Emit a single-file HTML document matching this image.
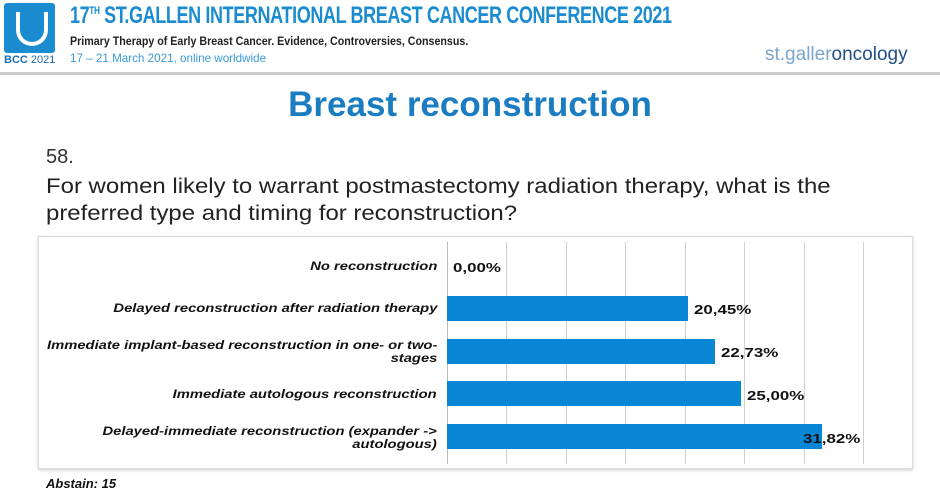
<!DOCTYPE html>
<html><head><meta charset="utf-8"><style>
body{margin:0;width:940px;height:495px;background:#fff;font-family:"Liberation Sans",sans-serif;position:relative;overflow:hidden}
.a{position:absolute;white-space:nowrap}
.lbl{position:absolute;right:503px;text-align:right;font-style:italic;font-weight:bold;font-size:12px;color:#111;line-height:13px;transform:scaleX(1.23);transform-origin:right}
.bar{position:absolute;left:447px;height:25px;background:#0a86d6}
.val{position:absolute;font-weight:bold;font-size:13px;color:#111;transform:scaleX(1.3);transform-origin:left}
.g{position:absolute;top:242px;height:222px;width:1px;background:#d0d0d0}
</style></head><body>
<div class="a" style="left:4px;top:3px;width:51px;height:50px;background:#1a8ccf;border-radius:3px"></div>
<div class="a" style="left:16px;top:12px;width:24px;height:30px;border:4px solid #fff;border-top:none;border-radius:0 0 16px 16px"></div>
<div class="a" style="left:4px;top:54px;font-size:11px;color:#1a6fb0"><b>BCC</b> 2021</div>
<div class="a" style="left:70px;top:2px;font-size:24px;font-weight:bold;color:#1a8ccf;transform:scaleX(0.75);transform-origin:left;letter-spacing:-0.5px">17<sup style="font-size:11px">TH</sup> ST.GALLEN INTERNATIONAL BREAST CANCER CONFERENCE 2021</div>
<div class="a" style="left:70px;top:34px;font-size:12px;font-weight:bold;color:#222;transform:scaleX(0.89);transform-origin:left">Primary Therapy of Early Breast Cancer. Evidence, Controversies, Consensus.</div>
<div class="a" style="left:70px;top:51px;font-size:12px;color:#3a9ad8;transform:scaleX(0.97);transform-origin:left">17 – 21 March 2021, online worldwide</div>
<div class="a" style="left:765px;top:44px;font-size:19px;color:#7aa6cc">st.galler<span style="color:#1f4f86">oncology</span></div>
<div class="a" style="left:0;top:72px;width:940px;height:3px;background:#ccc"></div>
<div class="a" style="left:0;top:85px;width:940px;text-align:center;font-size:35px;font-weight:bold;color:#1a7cc1">Breast reconstruction</div>
<div class="a" style="left:46px;top:146px;font-size:20px;color:#333">58.</div>
<div class="a" style="left:46px;top:173px;font-size:21px;color:#222;line-height:27px;transform:scaleX(1.14);transform-origin:left">For women likely to warrant postmastectomy radiation therapy, what is the<br>preferred type and timing for reconstruction?</div>
<div class="a" style="left:38px;top:236px;width:873px;height:231px;border:1px solid #ddd;box-shadow:0 1px 3px #ccc"></div>
<div class="g" style="left:447px;background:#bbb"></div><div class="g" style="left:506px"></div><div class="g" style="left:566px"></div><div class="g" style="left:625px"></div><div class="g" style="left:685px"></div><div class="g" style="left:744px"></div><div class="g" style="left:804px"></div><div class="g" style="left:863px"></div>
<div class="lbl" style="top:260px">No reconstruction</div>
<div class="val" style="left:453px;top:260px">0,00%</div>
<div class="lbl" style="top:302px">Delayed reconstruction after radiation therapy</div>
<div class="bar" style="top:296px;width:241px"></div><div class="val" style="left:694px;top:302px">20,45%</div>
<div class="lbl" style="top:339px">Immediate implant-based reconstruction in one- or two-<br>stages</div>
<div class="bar" style="top:339px;width:268px"></div><div class="val" style="left:721px;top:345px">22,73%</div>
<div class="lbl" style="top:388px">Immediate autologous reconstruction</div>
<div class="bar" style="top:381px;width:294px"></div><div class="val" style="left:747px;top:388px">25,00%</div>
<div class="lbl" style="top:425px">Delayed-immediate reconstruction (expander -&gt;<br>autologous)</div>
<div class="bar" style="top:424px;width:375px"></div><div class="val" style="left:803px;top:431px">31,82%</div>
<div class="a" style="left:46px;top:476px;font-size:13px;font-weight:bold;font-style:italic;color:#111">Abstain: 15</div>
</body></html>
